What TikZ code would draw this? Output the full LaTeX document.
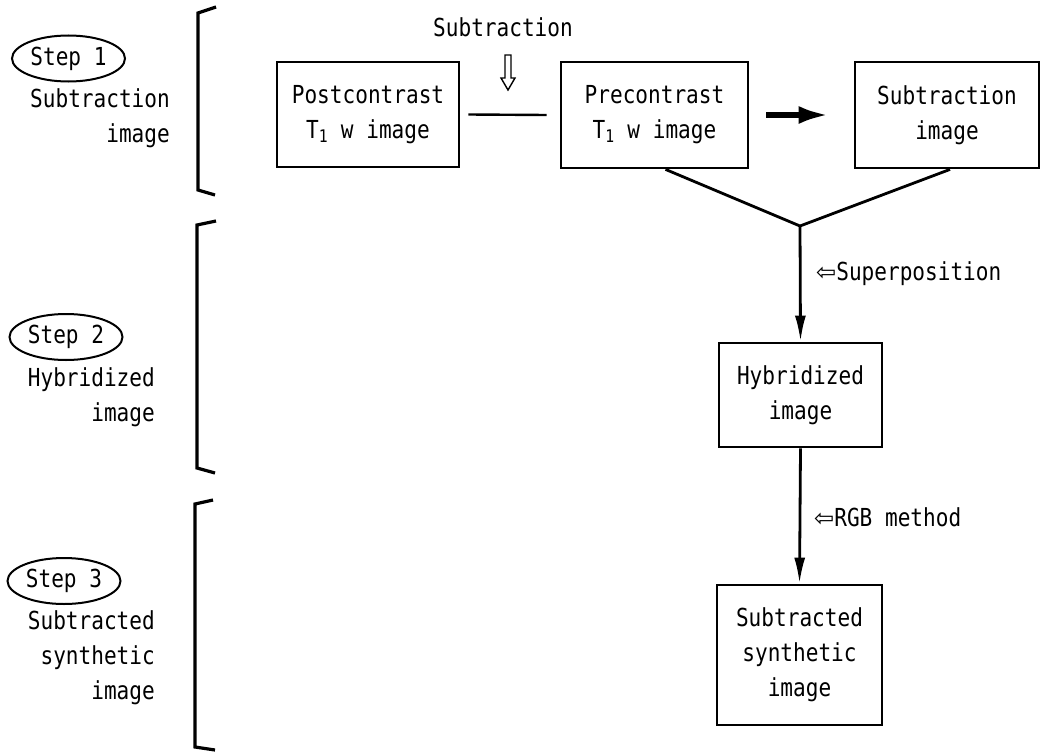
\documentclass[tikz,border=0pt]{standalone}
\usepackage{fontspec}
\usetikzlibrary{arrows.meta,shapes.geometric,calc}
\newfontfamily\dmono[FakeStretch=0.85]{DejaVu Sans Mono}
\newfontfamily\dsym{DejaVu Sans}
\begin{document}
\begin{tikzpicture}[x=1pt,y=-1pt,
  every node/.style={font=\dmono\fontsize{24.8}{35}\selectfont},
  box/.style={draw,line width=2.8pt,inner sep=0pt,align=center},
  stepell/.style={draw,ellipse,line width=2pt,minimum width=113pt,minimum height=46pt,inner sep=0pt},
  lefttxt/.style={align=right,anchor=north east,inner sep=0pt},
  conn/.style={line width=2.8pt},
  flow/.style={conn,-{Latex[length=26pt,width=11pt]}},
  brk/.style={line width=3.2pt,line join=miter},
  lab/.style={anchor=west,inner sep=0pt}
]
\useasboundingbox (0,0) rectangle (1040,752);

% brackets
\draw[brk] (216,7) -- (198,13) -- (198,190) -- (215,195);
\draw[brk] (216,221) -- (197,225) -- (197,468) -- (215,473);
\draw[brk] (213,500) -- (195,504) -- (195,747) -- (215,750);

% step labels
\node[stepell] (s1) at (68.5,58.5) {Step 1};
\node[lefttxt] (s1t) at (170,88) {Subtraction\\image};
\node[stepell] (s2) at (66,337) {Step 2};
\node[lefttxt] (s2t) at (155,367) {Hybridized\\image};
\node[stepell] (s3) at (64,581) {Step 3};
\node[lefttxt] (s3t) at (155,610) {Subtracted\\synthetic\\image};

% boxes
\node[box,minimum width=182pt,minimum height=105pt] (post) at (368,114.5) {Postcontrast\\T\textsubscript{1} w image};
\node[box,minimum width=187pt,minimum height=106pt] (pre) at (654.5,115) {Precontrast\\T\textsubscript{1} w image};
\node[box,minimum width=184pt,minimum height=106pt] (sub) at (947,115) {Subtraction\\image};
\node[box,minimum width=163pt,minimum height=104pt] (hyb) at (800.5,395) {Hybridized\\image};
\node[box,minimum width=165pt,minimum height=140pt] (subd) at (799.5,655) {Subtracted\\synthetic\\image};

% subtraction label and hollow arrow
\node[inner sep=0pt] (sublab) at (503,27) {Subtraction};
\draw[line width=1.4pt,line join=miter] (505,55) -- (511,55) -- (511,78) -- (515,78) -- (508,90) -- (501,78) -- (505,78) -- cycle;

% connectors
\draw[line width=2.4pt] ([xshift=8pt]post.east) -- ([xshift=-13pt]pre.west);
\draw[line width=5.5pt,-{Latex[length=30pt,width=18pt]},shorten <=17pt,shorten >=25pt] (pre.east) -- (sub.west);
\coordinate (j) at (800,226);
\draw[conn,line join=miter] ([xshift=11pt]pre.south) -- (j) -- ([xshift=3pt]sub.south);
\draw[flow] (j) -- (hyb.north);
\draw[flow] (hyb.south) -- (subd.north);

\node[lab] (suplab) at (816,274) {{\dsym\fontsize{24}{24}\selectfont ⇦}Superposition};
\node[lab] (rgblab) at (814,517) {{\dsym\fontsize{24}{24}\selectfont ⇦}RGB method};
\end{tikzpicture}
\end{document}
